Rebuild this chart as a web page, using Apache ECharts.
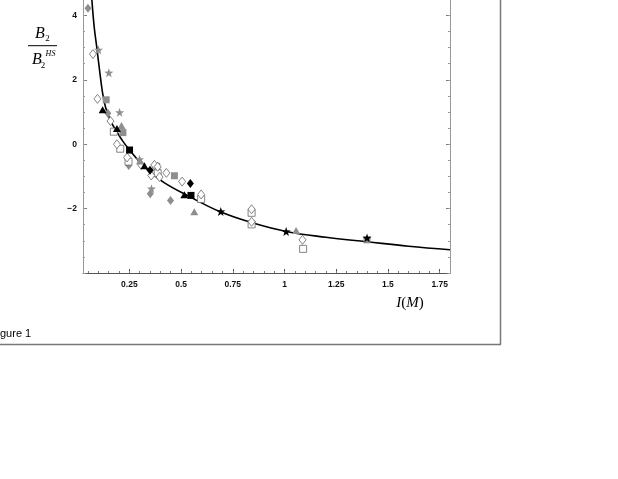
<!DOCTYPE html>
<html><head><meta charset="utf-8">
<script src="https://cdn.jsdelivr.net/npm/echarts@6/dist/echarts.min.js"></script>
<style>html,body{margin:0;padding:0;background:#fff}#c{width:618px;height:479px}</style>
</head><body><div id="c"></div>
<script>
// ---- data ----
const xTickLabels = [0.25, 0.5, 0.75, 1, 1.25, 1.5, 1.75];
const yTickLabels = [-2, 0, 2, 4];
const yMajorTicks = [-4, -2, 0, 2, 4];

const fitCurve = [[0.062,5.2],[0.069,4.48],[0.080,3.65],[0.093,2.99],[0.106,2.30],[0.120,1.62],[0.135,1.15],[0.160,0.72],[0.190,0.38],[0.220,0.08],[0.251,-0.18],[0.300,-0.55],[0.347,-0.84],[0.420,-1.20],[0.524,-1.57],[0.690,-2.10],[0.844,-2.44],[1.008,-2.71],[1.200,-2.89],[1.399,-3.03],[1.600,-3.17],[1.800,-3.28]];

const grayDiamond = [[0.050,4.22],[0.146,0.96],[0.247,-0.66],[0.351,-1.54],[0.449,-1.75]];
const grayStar = [[0.101,2.93],[0.151,2.22],[0.203,0.99],[0.299,-0.47],[0.357,-1.38]];
const openDiamond = [[0.074,2.80],[0.096,1.41],[0.159,0.72],[0.190,0.00],[0.239,-0.41],[0.307,-0.64],[0.356,-0.97],[0.371,-0.64],[0.387,-0.70],[0.396,-1.02],[0.429,-0.89],[0.505,-1.16],[0.597,-1.56],[0.841,-2.02],[0.841,-2.41],[1.087,-2.97]];
const openSquare = [[0.175,0.39],[0.206,-0.14],[0.246,-0.54],[0.380,-0.70],[0.387,-0.90],[0.597,-1.70],[0.841,-2.13],[0.841,-2.49],[1.090,-3.25]];
const graySquare = [[0.138,1.38],[0.219,0.36],[0.468,-0.98],[1.399,-2.97]];
const blackTriangle = [[0.121,1.07],[0.190,0.49],[0.323,-0.67],[0.516,-1.57]];
const blackSquare = [[0.251,-0.18],[0.548,-1.59]];
const blackDiamond = [[0.350,-0.81],[0.545,-1.22]];
const grayTriangle = [[0.212,0.58],[0.302,-0.52],[0.564,-2.10],[1.056,-2.68]];
const blackStar = [[0.692,-2.09],[1.008,-2.71],[1.399,-2.91]];

// ---- chart ----
const xMinor = []; for (let i = 1; i <= 35; i++) xMinor.push(+(i * 0.05).toFixed(2));
const yMinor = []; for (let i = -8; i <= 8; i++) yMinor.push(i * 0.5);

const GRAY = '#8e8e8e';
const STAR = 'path://M0,-10 L2.35,-3.24 L9.51,-3.09 L3.80,1.24 L5.88,8.09 L0,4 L-5.88,8.09 L-3.80,1.24 L-9.51,-3.09 L-2.35,-3.24 Z';

function pts(name, data, symbol, size, fill, border, bw) {
  return { name, type: 'scatter', data, symbol, symbolSize: size, z: 3,
    itemStyle: { color: fill, borderColor: border || fill, borderWidth: bw || 0, opacity: 1 },
    emphasis: { disabled: true }, silent: true };
}

const serif = '"Liberation Serif", "DejaVu Serif", serif';
const sans = '"Liberation Sans", Arial, sans-serif';

function xAx(major) {
  return { type: 'value', min: 0.026, max: 1.8, position: 'bottom',
    axisLine: { show: major, onZero: false, lineStyle: { color: '#555', width: 1 } },
    axisTick: { show: true, inside: true, length: major ? 4 : 2, customValues: major ? xTickLabels : xMinor, lineStyle: { color: major ? '#555' : '#777' } },
    axisLabel: major ? { customValues: xTickLabels, fontSize: 8.5, fontWeight: 'bold', color: '#111', fontFamily: sans, margin: 7, formatter: v => String(v) } : { show: false },
    splitLine: { show: false } };
}
function yAx(pos, major) {
  return { type: 'value', min: -4, max: 4.48, position: pos,
    axisLine: { show: major, onZero: false, lineStyle: { color: '#999' } },
    axisTick: { show: true, inside: true, length: major ? 4 : 2, customValues: major ? yMajorTicks : yMinor, lineStyle: { color: major ? '#777' : '#999' } },
    axisLabel: (major && pos === 'left') ? { customValues: yTickLabels, fontSize: 8.5, fontWeight: 'bold', color: '#111', fontFamily: sans, margin: 6,
      formatter: v => v < 0 ? '\u2212' + Math.abs(v) : String(v) } : { show: false },
    splitLine: { show: false } };
}

const chart = echarts.init(document.getElementById('c'));
chart.setOption({
  animation: false,
  backgroundColor: '#fff',
  grid: { left: 83, right: 168, top: 0, bottom: 206 },
  xAxis: [xAx(true), xAx(false)],
  yAxis: [yAx('left', true), yAx('left', false), yAx('right', true), yAx('right', false)],
  series: [
    { name: 'fit', type: 'line', data: fitCurve, smooth: 0.4, showSymbol: false, symbol: 'none', clip: true, z: 2,
      lineStyle: { color: '#000', width: 1.6 }, silent: true },
    pts('grayDiamond', grayDiamond, 'diamond', [7, 9], GRAY),
    pts('grayStar', grayStar, STAR, 9, GRAY),
    pts('openSquare', openSquare, 'rect', 7, '#fff', '#666', 0.8),
    pts('openDiamond', openDiamond, 'diamond', [7, 9], '#fff', '#666', 0.8),
    pts('graySquare', graySquare, 'rect', 7, GRAY),
    pts('grayTriangle', grayTriangle, 'triangle', [8, 7], GRAY),
    pts('blackTriangle', blackTriangle, 'triangle', [8, 7], '#000'),
    pts('blackSquare', blackSquare, 'rect', 7, '#000'),
    pts('blackDiamond', blackDiamond, 'diamond', [7, 9], '#000'),
    pts('blackStar', blackStar, STAR, 9, '#000')
  ],
  graphic: [
    { type: 'text', x: 40, y: 33.5, style: { text: 'B', font: 'italic 16px ' + serif, fill: '#000', textAlign: 'center', textVerticalAlign: 'middle' } },
    { type: 'text', x: 47.5, y: 39, style: { text: '2', font: '9px ' + serif, fill: '#000', textAlign: 'center', textVerticalAlign: 'middle' } },
    { type: 'line', shape: { x1: 28, y1: 45.7, x2: 57, y2: 45.7 }, style: { stroke: '#000', lineWidth: 1 } },
    { type: 'text', x: 37, y: 60, style: { text: 'B', font: 'italic 16px ' + serif, fill: '#000', textAlign: 'center', textVerticalAlign: 'middle' } },
    { type: 'text', x: 43, y: 66, style: { text: '2', font: '9px ' + serif, fill: '#000', textAlign: 'center', textVerticalAlign: 'middle' } },
    { type: 'text', x: 50.5, y: 54, style: { text: 'HS', font: 'italic 8px ' + serif, fill: '#000', textAlign: 'center', textVerticalAlign: 'middle' } },
    { type: 'text', x: 410, y: 303, style: { text: '{i|I}{u|(}{i|M}{u|)}', textAlign: 'center', textVerticalAlign: 'middle',
      rich: { i: { font: 'italic 15px ' + serif, fill: '#000' }, u: { font: '15px ' + serif, fill: '#000' } } } },
    { type: 'line', shape: { x1: 500.5, y1: 0, x2: 500.5, y2: 344.5 }, style: { stroke: '#777', lineWidth: 1.5 } },
    { type: 'line', shape: { x1: 0, y1: 344.5, x2: 501, y2: 344.5 }, style: { stroke: '#777', lineWidth: 1.5 } },
    { type: 'text', x: 0, y: 334, style: { text: 'gure 1', font: '11px ' + sans, fill: '#000', textAlign: 'left', textVerticalAlign: 'middle' } }
  ]
});
</script></body></html>
